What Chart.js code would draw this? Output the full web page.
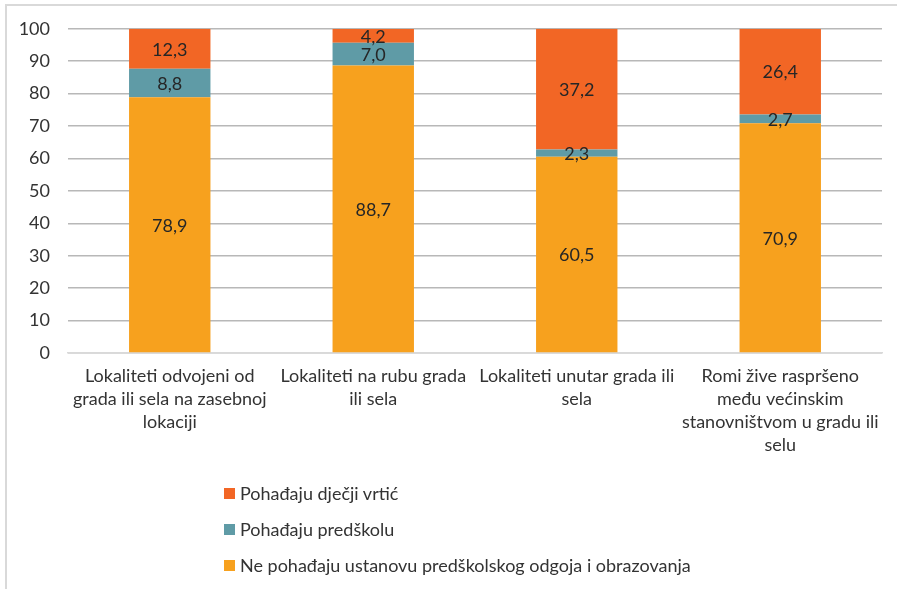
<!DOCTYPE html>
<html>
<head>
<meta charset="utf-8">
<script src="https://cdn.jsdelivr.net/npm/chart.js@4"></script>
<style>
  body { margin: 0; background: #fff; }
  #wrap { position: relative; width: 897px; height: 589px; }
  #frame { position: absolute; left: 5px; top: 4px; width: 900px; height: 584px;
           border-left: 2px solid #d9d9d9; border-top: 2px solid #d9d9d9; }
  #legend { position: absolute; left: 224px; top: 475px; font: 18px Lato, sans-serif; color: #333; }
  #legend div { height: 36px; display: flex; align-items: center; }
  #legend span.box { display: inline-block; width: 11px; height: 11px; margin-right: 5px; }
</style>
</head>
<body>
<div id="wrap">
  <div id="frame"></div>
  <canvas id="grafikon" width="897" height="589"></canvas>
  <div id="legend"></div>
</div>
<script>
// Podaci sa grafikona
const kategorije = [
    ['Lokaliteti odvojeni od', 'grada ili sela na zasebnoj', 'lokaciji'],
    ['Lokaliteti na rubu grada', 'ili sela'],
    ['Lokaliteti unutar grada ili', 'sela'],
    ['Romi žive raspršeno', 'među većinskim', 'stanovništvom u gradu ili', 'selu']
];
const nePohadaju = [78.9, 88.7, 60.5, 70.9];
const predskola = [8.8, 7.0, 2.3, 2.7];
const vrtic = [12.3, 4.2, 37.2, 26.4];
const yTicks = [0, 10, 20, 30, 40, 50, 60, 70, 80, 90, 100];

const boje = ['#F7A11E', '#5F9BA6', '#F26625'];

// Ispis vrijednosti u sredini svakog segmenta
const oznake = {
    id: 'oznake',
    afterDatasetsDraw(chart) {
        const c = chart.ctx;
        c.save();
        c.font = '18px Lato, sans-serif';
        c.fillStyle = '#262626';
        c.textAlign = 'center';
        c.textBaseline = 'middle';
        chart.data.datasets.forEach((ds, i) => {
            chart.getDatasetMeta(i).data.forEach((el, j) => {
                const txt = ds.data[j].toFixed(1).replace('.', ',');
                c.fillText(txt, el.x, (el.y + el.base) / 2 + 1);
            });
        });
        c.restore();
    }
};

const ctx = document.getElementById('grafikon').getContext('2d');
const grafikon = new Chart(ctx, {
    type: 'bar',
    data: {
        labels: kategorije,
        datasets: [
            { label: 'Ne pohađaju ustanovu predškolskog odgoja i obrazovanja', data: nePohadaju, backgroundColor: boje[0] },
            { label: 'Pohađaju predškolu', data: predskola, backgroundColor: boje[1] },
            { label: 'Pohađaju dječji vrtić', data: vrtic, backgroundColor: boje[2] }
        ]
    },
    options: {
        responsive: false,
        animation: false,
        layout: { padding: { top: 28, right: 15, left: 0, bottom: 0 } },
        plugins: {
            legend: { display: false },
            tooltip: { enabled: false }
        },
        datasets: {
            bar: { barPercentage: 0.4, categoryPercentage: 1.0 }
        },
        scales: {
            x: {
                stacked: true,
                grid: { display: false, drawTicks: false },
                border: { color: '#d9d9d9', width: 1.5 },
                ticks: {
                    padding: 12,
                    maxRotation: 0,
                    autoSkip: false,
                    color: '#333',
                    font: { family: 'Lato, sans-serif', size: 18, lineHeight: 1.28 }
                },
                afterFit(axis) { axis.height = 236; }
            },
            y: {
                stacked: true,
                min: 0,
                max: 100,
                afterBuildTicks(axis) { axis.ticks = yTicks.map(v => ({ value: v })); },
                grid: { color: '#b8b8b8', lineWidth: 1.5, drawTicks: false },
                border: { display: false },
                ticks: {
                    padding: 18,
                    color: '#333',
                    font: { family: 'Lato, sans-serif', size: 18 }
                },
                afterFit(axis) { axis.width = 68; }
            }
        }
    },
    plugins: [oznake]
});

// Legenda u obrnutom redoslijedu, jedna stavka po retku
const legenda = document.getElementById('legend');
grafikon.data.datasets.slice().reverse().forEach(ds => {
    const red = document.createElement('div');
    red.innerHTML = '<span class="box" style="background:' + ds.backgroundColor + '"></span>' + ds.label;
    legenda.appendChild(red);
});
</script>
</body>
</html>
